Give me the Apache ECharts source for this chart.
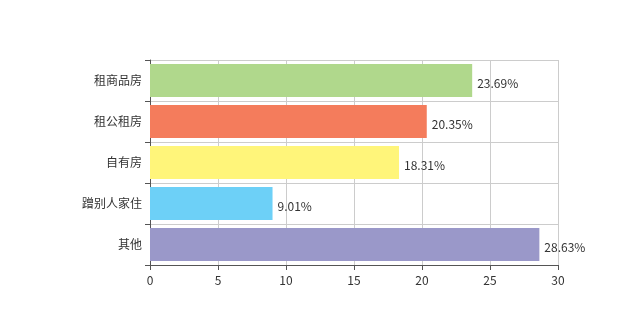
<!DOCTYPE html>
<html>
<head>
<meta charset="utf-8">
<script src="https://cdn.jsdelivr.net/npm/echarts@6/dist/echarts.min.js"></script>
<style>
html,body{margin:0;padding:0;background:#fff;}
#chart{width:620px;height:325px;}
</style>
</head>
<body>
<div id="chart"></div>
<script>
// Housing situation shares (%), listed bottom to top on the category axis
const categories = ['其他', '蹭别人家住', '自有房', '租公租房', '租商品房'];
const values = [28.63, 9.01, 18.31, 20.35, 23.69];
const barColors = ['#9a98c9', '#6dd0f7', '#fff57a', '#f47c5c', '#b0d88c'];
const xTicks = { min: 0, max: 30, interval: 5 };

const chart = echarts.init(document.getElementById('chart'));
chart.setOption({
  animation: false,
  textStyle: { fontFamily: '"Noto Sans CJK SC", "Noto Sans", sans-serif' },
  grid: { left: 150, right: 62, top: 60, bottom: 60, containLabel: false },
  xAxis: {
    type: 'value',
    min: xTicks.min, max: xTicks.max, interval: xTicks.interval,
    axisLine: { show: true, lineStyle: { color: '#555' } },
    axisTick: { show: true, length: 5, lineStyle: { color: '#555' } },
    axisLabel: { color: '#333', fontSize: 12, margin: 9 },
    splitLine: { show: true, lineStyle: { color: '#ccc' } }
  },
  yAxis: {
    type: 'category',
    data: categories,
    axisLine: { show: true, lineStyle: { color: '#555' } },
    axisTick: { show: true, length: 5, lineStyle: { color: '#555' } },
    axisLabel: { color: '#333', fontSize: 12, margin: 8 },
    splitLine: { show: true, lineStyle: { color: '#ccc' } }
  },
  series: [{
    type: 'bar',
    data: values.map((v, i) => ({ value: v, itemStyle: { color: barColors[i] } })),
    barCategoryGap: '20%',
    label: {
      show: true,
      position: 'right',
      offset: [0, 3],
      color: '#333',
      fontSize: 12,
      formatter: p => p.value.toFixed(2) + '%'
    }
  }]
});
</script>
</body>
</html>
